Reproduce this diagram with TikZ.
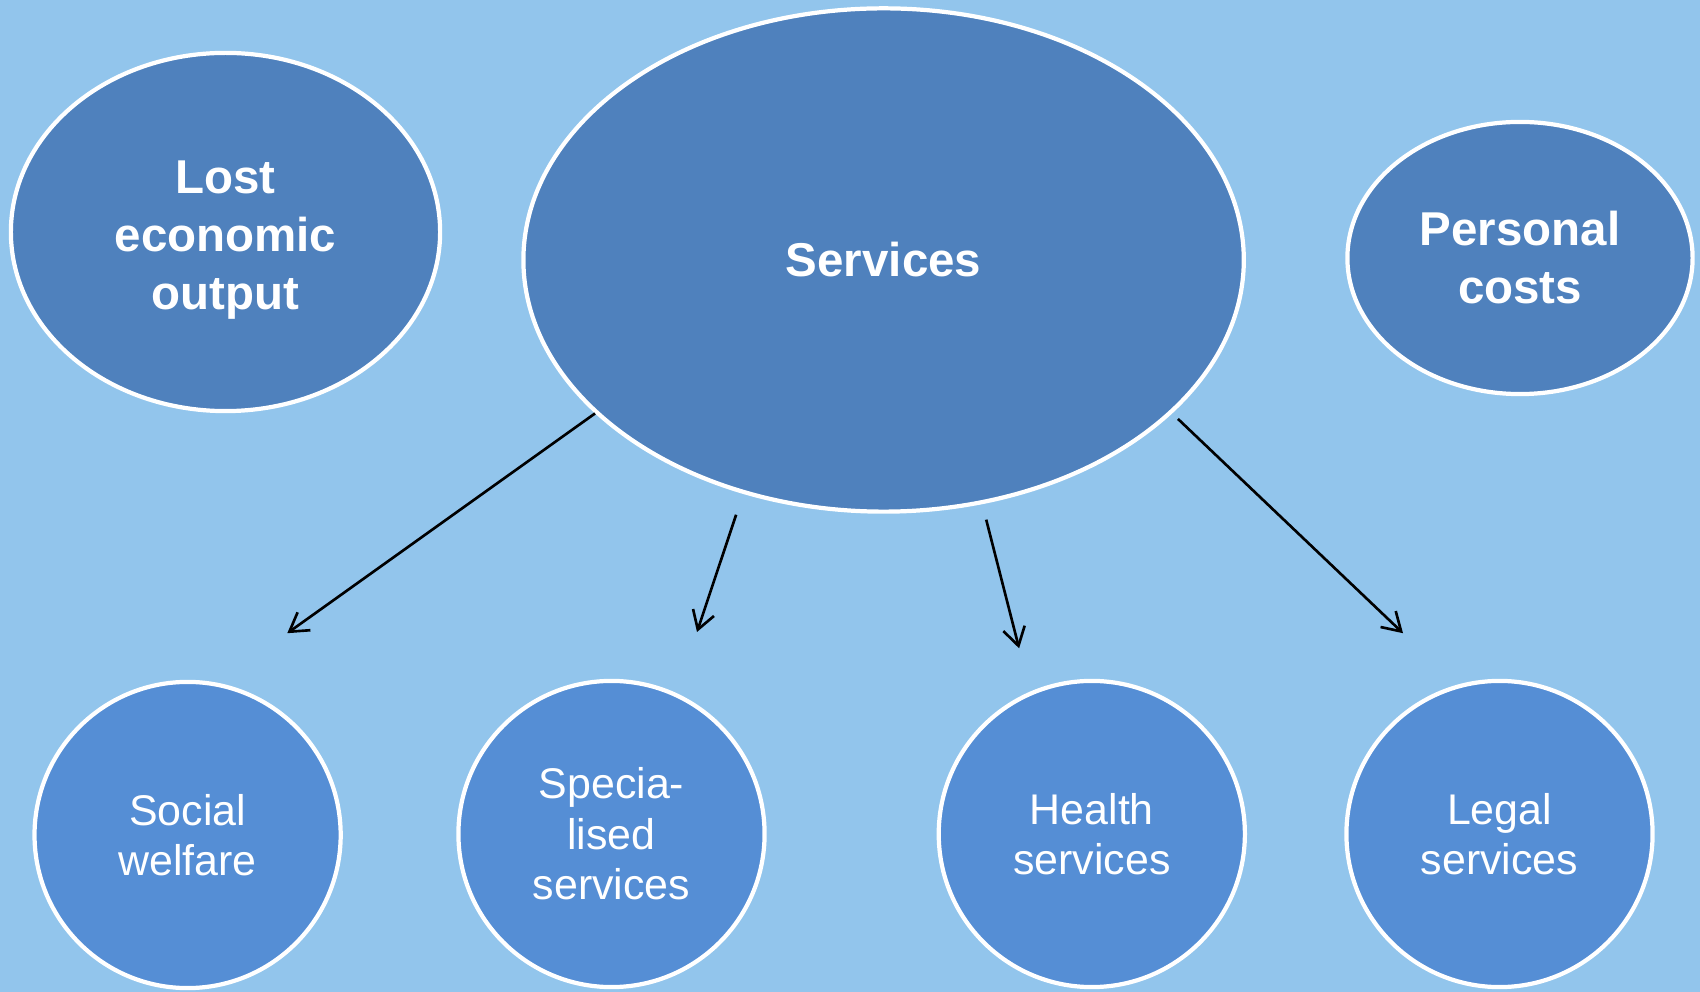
\documentclass[tikz,border=0pt]{standalone}
\usepackage{fontspec}
\setmainfont{Liberation Sans}
\usetikzlibrary{arrows.meta,shapes.geometric}
\definecolor{bgblue}{RGB}{146,197,236}
\definecolor{topblue}{RGB}{79,129,189}
\definecolor{lowblue}{RGB}{85,142,213}
\begin{document}
\begin{tikzpicture}
    [
    x=0.01cm, y=-0.01cm,
    every node/.style={ellipse, draw=white, line width=1.2pt, text=white, align=center, inner sep=0pt},
    costbox/.style={fill=topblue, font=\fontsize{13.5}{16.5}\selectfont\bfseries},
    kindbox/.style={circle, fill=lowblue, minimum size=3.06cm, font=\fontsize{12.2}{14.4}\selectfont},
    arr/.style={line width=0.75pt, -{Straight Barb[length=1.8mm, width=2.2mm, line width=0.75pt]}},
    ]
    \fill[bgblue] (0,0) rectangle (1700,992);
    \useasboundingbox (0,0) rectangle (1700,992);
    % top row
    \node[costbox, minimum width=4.29cm, minimum height=3.58cm] (lost) at (225.5,232) {\rule{0pt}{13.7pt}Lost\\economic\\output};
    \node[costbox, minimum width=7.2cm, minimum height=5.03cm] (services) at (883.6,260) {Services};
    \node[costbox, minimum width=3.45cm, minimum height=2.72cm] (personal) at (1520,258) {Personal\\costs};
    % bottom row
    \node[kindbox] (social) at (187.6,835) {Social\\welfare};
    \node[kindbox] (special) at (611.5,834) {Specia-\\lised\\services};
    \node[kindbox] (health) at (1091.8,834) {Health\\services};
    \node[kindbox] (legal) at (1499.5,834) {Legal\\services};
    % arrow ends
    \coordinate (social-in) at (287.3,633.2);
    \coordinate (special-in) at (697,632);
    \coordinate (health-in) at (1019.1,648.3);
    \coordinate (legal-in) at (1403,633.2);
    \draw[arr] (services.208) -- (social-in);
    \draw[arr, shorten <=0.22cm] (services.239) -- (special-in);
    \draw[arr, shorten <=0.16cm] (services.292) -- (health-in);
    \draw[arr, shorten <=0.08cm] (services.332) -- (legal-in);
\end{tikzpicture}
\end{document}
